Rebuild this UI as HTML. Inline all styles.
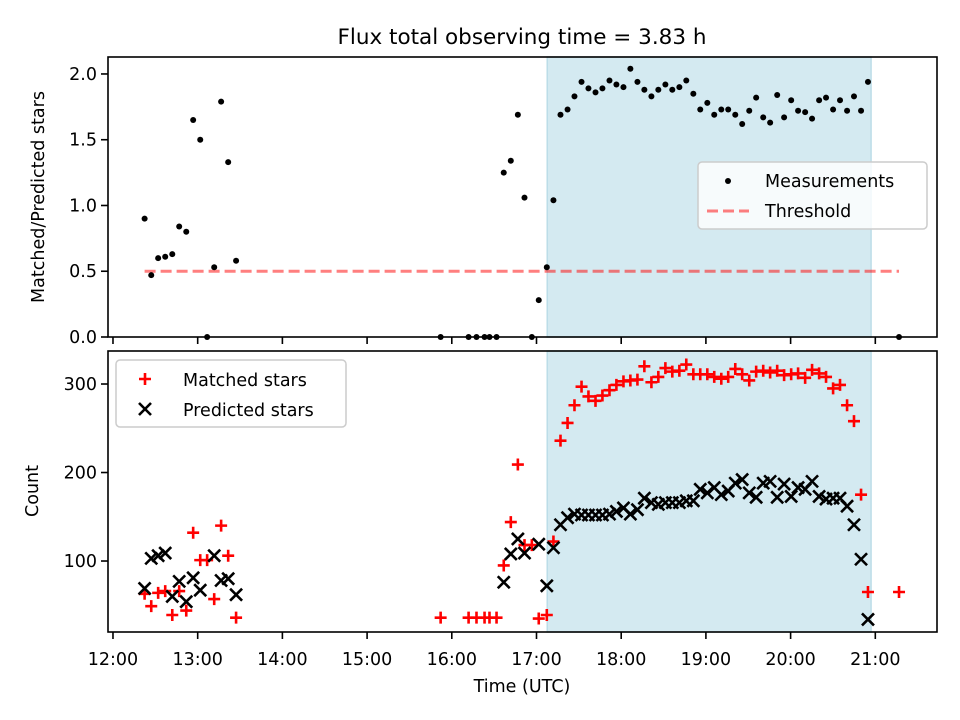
<!DOCTYPE html>
<html><head><meta charset="utf-8"><style>
html,body{margin:0;padding:0;background:#fff;}
svg{display:block;font-family:"DejaVu Sans","Liberation Sans",sans-serif;}
</style></head><body>
<svg id="fig" width="960" height="720" viewBox="0 0 960 720" xmlns="http://www.w3.org/2000/svg">
<rect width="960" height="720" fill="#fff"/>
<text x="522" y="44" font-size="21.5" text-anchor="middle">Flux total observing time = 3.83 h</text>
<g id="top"></g>
<g id="bot"></g>
<text x="522" y="692" font-size="17.5" text-anchor="middle">Time (UTC)</text>
<text transform="translate(44,197) rotate(-90)" font-size="17.5" text-anchor="middle">Matched/Predicted stars</text>
<text transform="translate(38,491) rotate(-90)" font-size="17.5" text-anchor="middle">Count</text>
</svg>
<script>
// time of each observation, minutes after 12:00 UTC
const timesMin = [22.4,27.1,32.0,37.0,42.0,46.9,51.9,56.8,61.8,66.7,71.7,76.6,81.6,87.2,
 232.1,251.9,257.5,263.2,266.7,271.7,276.8,281.8,286.8,291.5,296.7,301.6,307.3,312.0,
 317.0,322.0,326.9,331.9,336.8,341.8,346.7,351.7,356.6,361.6,366.5,371.5,376.4,381.4,386.3,391.3,396.2,401.2,406.1,411.1,416.0,421.0,425.9,430.9,435.8,440.8,445.7,450.7,455.6,460.6,465.5,470.5,475.4,480.4,485.3,490.3,495.2,500.2,505.1,510.1,515.0,520.0,524.9,529.9,534.8,
 556.8];
const fluxRatio = [0.90,0.47,0.60,0.61,0.63,0.84,0.80,1.65,1.50,0,0.53,1.79,1.33,0.58,
 0,0,0,0,0,0,1.25,1.34,1.69,1.06,0,0.28,0.53,1.04,
 1.69,1.73,1.83,1.94,1.89,1.86,1.89,1.95,1.92,1.90,2.04,1.94,1.88,1.83,1.88,1.92,1.88,1.90,1.95,1.85,1.73,1.78,1.69,1.73,1.73,1.69,1.62,1.72,1.82,1.67,1.63,1.84,1.67,1.80,1.72,1.71,1.66,1.80,1.82,1.73,1.80,1.72,1.83,1.72,1.94,
 0];
const matchedStars = [63,49,64,66,39,66,44,132,101,101,57,140,106,36,
 36,36,36,36,36,36,95,144,209,118,118,35,39,122,
 236,256,276,297,286,281,287,293,299,303,304,305,320,302,308,318,314,315,322,311,311,311,308,306,308,317,311,304,314,315,313,315,310,311,312,307,316,312,308,295,299,276,258,175,65,
 65];
const predictedStars = [69,103,106,109,60,77,54,81,67,null,106,78,80,62,
 null,null,null,null,null,null,76,108,125,109,null,119,72,115,
 141,149,153,152,152,152,152,153,156,160,153,158,171,166,164,166,166,166,168,168,181,177,183,175,179,188,192,177,172,188,190,172,187,173,183,181,190,173,170,171,171,162,141,102,34,
 null];
const thresholdValue = [0.5];
const thresholdSpanMin = [22.4, 556.8];
const observingWindowMin = [307.6, 537.0];
const xTickLabels = ["12:00","13:00","14:00","15:00","16:00","17:00","18:00","19:00","20:00","21:00"];
const xTickMin = [0,60,120,180,240,300,360,420,480,540];
const topYTicks = [0.0,0.5,1.0,1.5,2.0];
const botYTicks = [100,200,300];

const NS="http://www.w3.org/2000/svg";
const L=108,R=937;
const X0=-3.53, X1=583.7; // minutes domain
const sx=m=>L+(m-X0)/(X1-X0)*(R-L);
const T={top:57,bot:337,y0:0,y1:2.129};
const B={top:351,bot:632,y0:19.8,y1:337.3};
const sy=(P,v)=>P.bot-(v-P.y0)/(P.y1-P.y0)*(P.bot-P.top);
function el(tag,attrs,parent,txt){const e=document.createElementNS(NS,tag);for(const k in attrs)e.setAttribute(k,attrs[k]);if(txt!=null)e.textContent=txt;parent.appendChild(e);return e;}

function panel(g,P){
  const sh=el('rect',{x:sx(observingWindowMin[0]),y:P.top,width:sx(observingWindowMin[1])-sx(observingWindowMin[0]),height:P.bot-P.top,fill:'#d4eaf1',stroke:'#bcdde8','stroke-width':1.5},g);
  
  
  xTickMin.forEach((m,i)=>{
    const t=el('line',{x1:sx(m),x2:sx(m),y1:P.bot,y2:P.bot+7,stroke:'#000','stroke-width':1.6},g);
    
    
  });
}
function frame(g,P){
  const f=el('rect',{x:L,y:P.top,width:R-L,height:P.bot-P.top,fill:'none',stroke:'#000','stroke-width':1.6},g);
  
  
}
function yticks(g,P,ticks,fmt){
  ticks.forEach(v=>{
    const y=sy(P,v);
    const t=el('line',{x1:L-7,x2:L,y1:y,y2:y,stroke:'#000','stroke-width':1.6},g);
    
    
    const l=el('text',{x:L-11,y:y+6,'font-size':17.5,'text-anchor':'end'},g,fmt(v));
    
    
  });
}
function plus(g,x,y){
  return el('path',{d:`M${x-6} ${y}H${x+6}M${x} ${y-6}V${y+6}`,stroke:'#f00','stroke-width':2.6,fill:'none'},g);
}
function cross(g,x,y){
  return el('path',{d:`M${x-6} ${y-6}L${x+6} ${y+6}M${x-6} ${y+6}L${x+6} ${y-6}`,stroke:'#000','stroke-width':2.6,fill:'none'},g);
}

// TOP PANEL
const gt=document.getElementById('top');
panel(gt,T);
const th=el('line',{x1:sx(thresholdSpanMin[0]),x2:sx(thresholdSpanMin[1]),y1:sy(T,thresholdValue[0]),y2:sy(T,thresholdValue[0]),stroke:'#ff0000','stroke-opacity':0.5,'stroke-width':3,'stroke-dasharray':'11,5'},gt);


timesMin.forEach((m,i)=>{
  if(fluxRatio[i]==null)return;
  const c=el('circle',{cx:sx(m),cy:sy(T,fluxRatio[i]),r:3,fill:'#000'},gt);
  
  
});
frame(gt,T);
yticks(gt,T,topYTicks,v=>v.toFixed(1));
const lg=el('g',{},gt);


el('rect',{x:698,y:162,width:229,height:67,rx:4,fill:'#fff','fill-opacity':0.8,stroke:'#ccc','stroke-width':1.5},lg);
el('circle',{cx:728,cy:181,r:3,fill:'#000'},lg);
const lt1=el('text',{x:765,y:187,'font-size':17.5},lg,'Measurements');


el('line',{x1:707,x2:749,y1:211,y2:211,stroke:'#f00','stroke-opacity':0.5,'stroke-width':3,'stroke-dasharray':'11,5'},lg);
const lt2=el('text',{x:765,y:217,'font-size':17.5},lg,'Threshold');



// BOTTOM PANEL
const gb=document.getElementById('bot');
panel(gb,B);
timesMin.forEach((m,i)=>{
  if(matchedStars[i]==null)return;
  const p=plus(gb,sx(m),sy(B,matchedStars[i]));
  
  
});
timesMin.forEach((m,i)=>{
  if(predictedStars[i]==null)return;
  const p=cross(gb,sx(m),sy(B,predictedStars[i]));
  
  
});
frame(gb,B);
yticks(gb,B,botYTicks,v=>String(v));
xTickMin.forEach((m,i)=>{
  const l=el('text',{x:sx(m),y:665,'font-size':17.5,'text-anchor':'middle'},gb,xTickLabels[i]);
  
  
});
const lb=el('g',{},gb);


el('rect',{x:116,y:360,width:230,height:67,rx:4,fill:'#fff','fill-opacity':0.8,stroke:'#ccc','stroke-width':1.5},lb);
plus(lb,145,379);
const lb1=el('text',{x:183,y:386,'font-size':17.5},lb,'Matched stars');


cross(lb,145,409);
const lb2=el('text',{x:183,y:416,'font-size':17.5},lb,'Predicted stars');


</script>
</body></html>
